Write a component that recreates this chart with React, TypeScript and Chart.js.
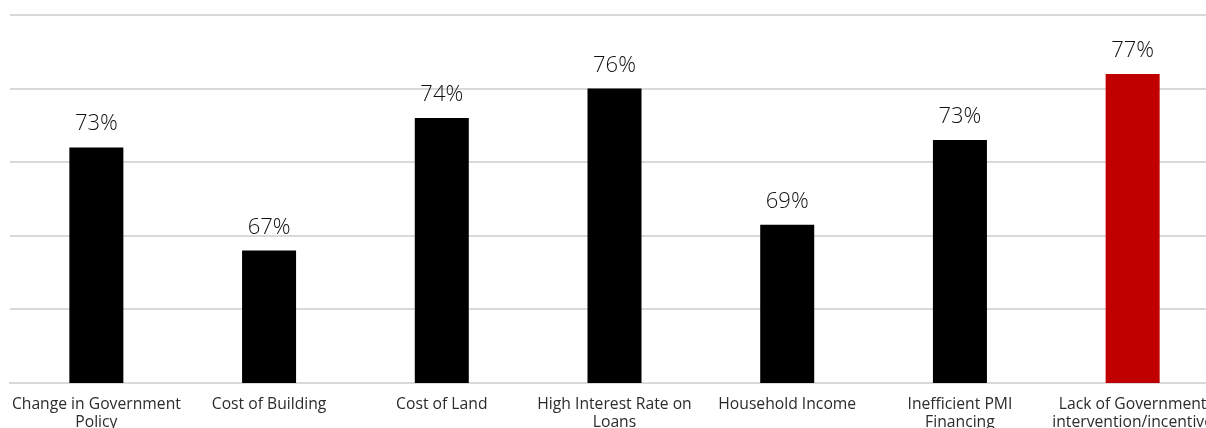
import React, { useEffect, useRef } from "react";
import { Chart, registerables } from "chart.js";

Chart.register(...registerables);

const categories: (string | string[])[] = [
  ["Change in Government", "Policy"],
  "Cost of Building",
  "Cost of Land",
  ["High Interest Rate on", "Loans"],
  "Household Income",
  ["Inefficient PMI", "Financing"],
  ["Lack of Government", "intervention/incentive"],
];

const values: number[] = [72.8, 67.2, 74.4, 76.0, 68.6, 73.2, 76.8];
const valueLabels: string[] = ["73%", "67%", "74%", "76%", "69%", "73%", "77%"];
const barColors: string[] = ["#000000", "#000000", "#000000", "#000000", "#000000", "#000000", "#C00000"];

const yMin = 60;
const yMax = 80;
const yStep = 4;

const W = 1219;
const H = 440;
const AXIS_BOTTOM = 383;

const valueLabelPlugin = {
  id: "valueLabels",
  afterDatasetsDraw(chart: any) {
    const ctx = chart.ctx;
    const meta = chart.getDatasetMeta(0);
    ctx.save();
    ctx.font = "300 22px 'Open Sans'";
    ctx.fillStyle = "#111111";
    ctx.textAlign = "center";
    ctx.textBaseline = "alphabetic";
    meta.data.forEach((bar: any, i: number) => {
      ctx.fillText(valueLabels[i], bar.x, bar.y - 17);
    });
    ctx.restore();
  },
};

export default function App() {
  const ref = useRef<HTMLCanvasElement>(null);

  useEffect(() => {
    if (!ref.current) return;
    const chart = new Chart(ref.current, {
      type: "bar",
      data: {
        labels: categories,
        datasets: [
          {
            data: values,
            backgroundColor: barColors,
            borderWidth: 0,
            barPercentage: 1,
            categoryPercentage: 0.3127,
          },
        ],
      },
      options: {
        responsive: false,
        animation: false,
        devicePixelRatio: 1,
        layout: { padding: { left: 10, top: 15, right: 0, bottom: 0 } },
        plugins: {
          legend: { display: false },
          tooltip: { enabled: false },
        },
        scales: {
          x: {
            grid: { display: false, drawTicks: false },
            border: { display: true, color: "#d9d9d9", width: 2 },
            ticks: {
              color: "#2b2b2b",
              font: { family: "'Open Sans'", size: 15.7, lineHeight: 1.15 },
              padding: 12,
              maxRotation: 0,
              autoSkip: false,
            },
            afterFit: (scale: any) => {
              scale.height = H - AXIS_BOTTOM;
              scale.paddingLeft = 0;
              scale.paddingRight = 0;
            },
          },
          y: {
            min: yMin,
            max: yMax,
            ticks: { display: false, stepSize: yStep },
            grid: { color: "#d9d9d9", lineWidth: 2, drawTicks: false },
            border: { display: false },
            afterFit: (scale: any) => {
              scale.width = 0;
              scale.paddingTop = 0;
              scale.paddingBottom = 0;
            },
          },
        },
      },
      plugins: [valueLabelPlugin],
    });
    return () => chart.destroy();
  }, []);

  return (
    <div
      style={{
        position: "absolute",
        left: 0,
        top: 0,
        width: 1206,
        height: 428,
        overflow: "hidden",
        background: "#ffffff",
      }}
    >
      <canvas ref={ref} width={W} height={H} style={{ width: W, height: H, display: "block" }} />
    </div>
  );
}
